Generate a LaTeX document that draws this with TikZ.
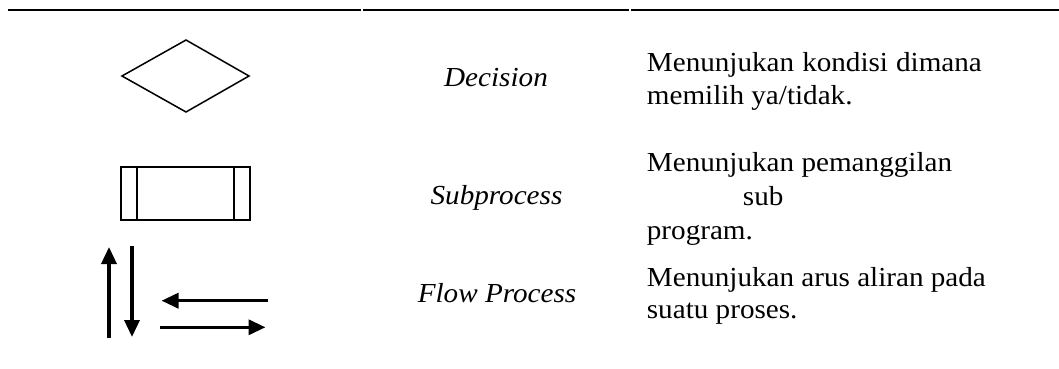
\documentclass[tikz,border=0pt]{standalone}
\usepackage{fontspec}
\setmainfont{Liberation Serif}[FakeStretch=1.06]
\usetikzlibrary{arrows.meta}
\begin{document}
\begin{tikzpicture}[x=1pt,y=-1pt,
  rule/.style={line width=2pt},
  shapeline/.style={line width=1.5pt, line join=miter},
  flowarrow/.style={line width=3.5pt, -{Triangle[length=17pt,width=15pt]}},
  term/.style={font={\fontsize{27.5}{33}\selectfont\itshape}, inner sep=0pt, anchor=base},
  desc/.style={font={\fontsize{27.5}{33}\selectfont}, inner sep=0pt, anchor=base west}]
\useasboundingbox (0,0) rectangle (1059,369);
% top rule
\draw[rule] (8,10.3) -- (361,10.3);
\draw[rule] (363,10.3) -- (629,10.3);
\draw[rule] (631,10.3) -- (1059,10.3);
% decision diamond
\coordinate (dl) at (122,76);
\coordinate (dt) at (186,40);
\coordinate (dr) at (249,76);
\coordinate (db) at (186,112);
\draw[shapeline] (dl) -- (dt) -- (dr) -- (db) -- cycle;
% subprocess box
\coordinate (sa) at (121,167);
\coordinate (sb) at (250,220);
\draw[shapeline] (sa) rectangle (sb);
\coordinate (s1t) at (137,167);
\coordinate (s1b) at (137,220);
\coordinate (s2t) at (234,167);
\coordinate (s2b) at (234,220);
\draw[line width=1.1pt] (s1t) -- (s1b);
\draw[line width=1.1pt] (s2t) -- (s2b);
% flow arrows
\coordinate (ua) at (109,338);
\coordinate (ub) at (109,247);
\coordinate (da) at (132,246);
\coordinate (db2) at (132,337);
\coordinate (la) at (268,300.7);
\coordinate (lb) at (161.5,300.7);
\coordinate (ra) at (160,327.3);
\coordinate (rb) at (265.5,327.3);
\draw[flowarrow] (ua) -- (ub);
\draw[flowarrow] (da) -- (db2);
\draw[flowarrow] (la) -- (lb);
\draw[flowarrow] (ra) -- (rb);
% terms
\node[term] (t1) at (496,86.5) {Decision};
\node[term] (t2) at (496.5,204.5) {Subprocess};
\node[term] (t3) at (497,302) {Flow Process};
% descriptions
\node[desc] (d1a) at (646.7,71.7) {\makebox[335pt][s]{Menunjukan kondisi dimana}};
\node[desc] (d1b) at (646.7,104) {memilih ya/tidak.};
\node[desc] (d2a) at (646.7,171.7) {Menunjukan pemanggilan};
\node[desc] (d2b) at (742.7,205) {sub};
\node[desc] (d2c) at (646.7,239.3) {program.};
\node[desc] (d3a) at (646.7,286) {\makebox[339pt][s]{Menunjukan arus aliran pada}};
\node[desc] (d3b) at (646.7,318.3) {suatu proses.};
\end{tikzpicture}
\end{document}
